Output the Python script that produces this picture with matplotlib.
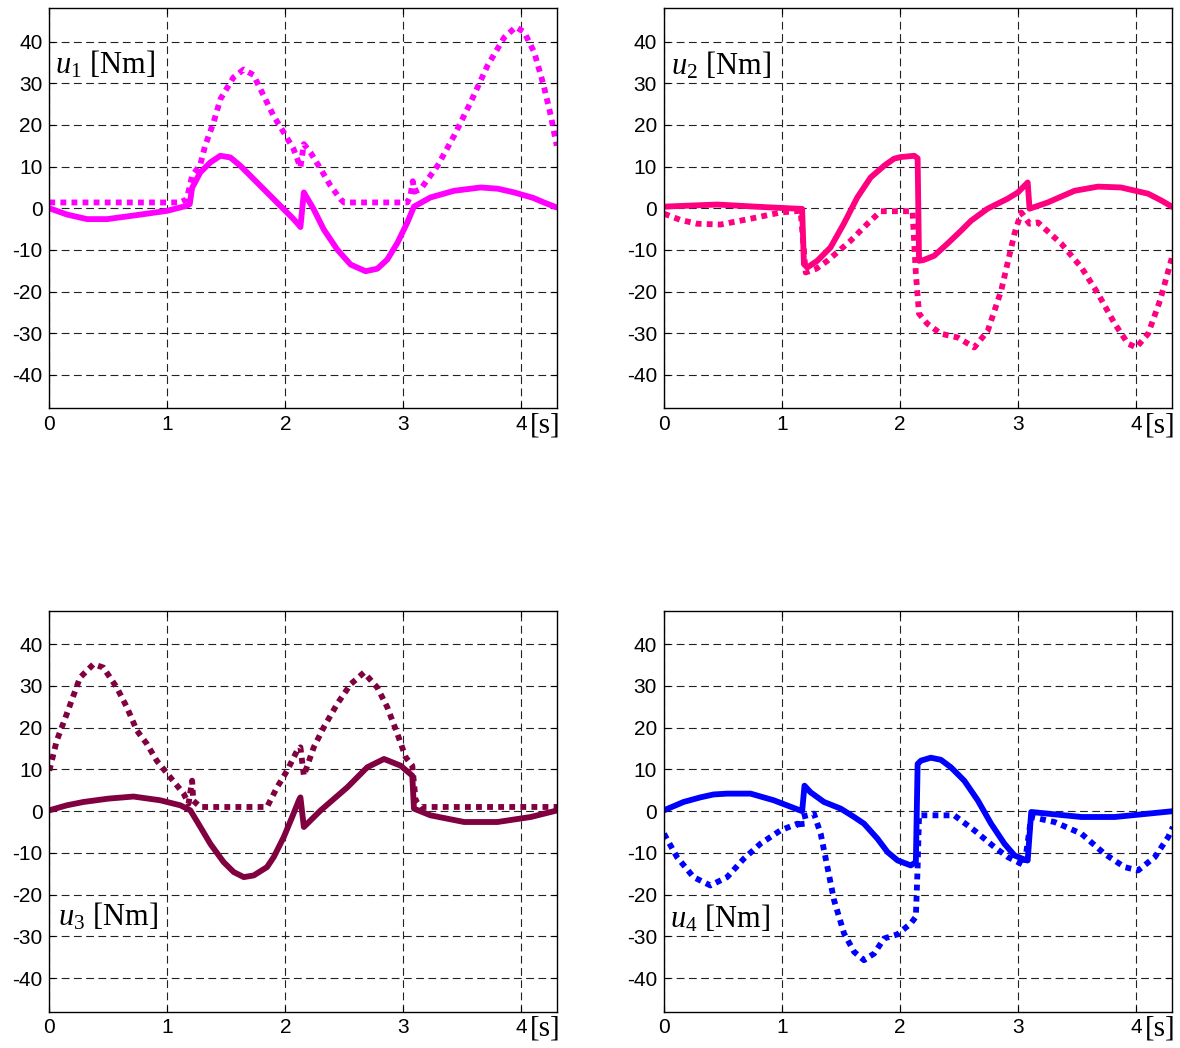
import matplotlib
matplotlib.use("Agg")
import matplotlib.pyplot as plt
import matplotlib.transforms as mtransforms

# u1 (top left)
t1 = [0, 0.15, 0.32, 0.49, 0.75, 1.0, 1.165, 1.19, 1.21, 1.279, 1.364, 1.449, 1.534, 1.619, 1.704, 1.845, 1.986, 2.07,
      2.114, 2.128, 2.157, 2.24, 2.326, 2.44, 2.553, 2.68, 2.78, 2.864, 2.95, 3.034, 3.09, 3.23, 3.43, 3.656, 3.8, 3.94,
      4.1, 4.2, 4.3]
u1 = [0, -1.5, -2.6, -2.6, -1.6, -0.6, 0.6, 1.0, 4.9, 8.6, 11.0, 12.6, 12.2, 10.2, 7.8, 3.8, -0.2, -2.6,
      -4.0, -4.5, 3.8, -0.2, -5.1, -9.9, -13.5, -15.1, -14.5, -12.3, -8.3, -3.4, 0.4, 2.6, 4.2, 5.0, 4.7, 3.8,
      2.5, 1.3, 0.2]
t1d = [0, 1.11, 1.165, 1.21, 1.28, 1.32, 1.392, 1.45, 1.56, 1.647, 1.73, 1.817, 1.90, 1.987, 2.07, 2.128, 2.157, 2.213,
       2.30, 2.383, 2.468, 2.496, 3.034, 3.06, 3.08, 3.095, 3.147, 3.29, 3.43, 3.57, 3.713, 3.855, 3.953, 4.024, 4.11,
       4.19, 4.25, 4.3]
u1d = [1.4, 1.4, 2.2, 7.8, 10.5, 15.0, 20.6, 26.2, 31.4, 33.3, 32.0, 27.0, 22.2, 18.2, 14.2, 9.8, 15.4, 13.4,
       9.4, 5.4, 2.2, 1.4, 1.4, 3.0, 6.5, 4.0, 4.6, 10.2, 17.4, 25.4, 34.2, 41.0, 43.5, 42.3, 37.4,
       29.4, 22.2, 15.0]

# u2 (top right)
t2 = [0, 0.45, 0.87, 1.17, 1.185, 1.214, 1.298, 1.41, 1.523, 1.637, 1.75, 1.864, 1.948, 2.006, 2.12, 2.148, 2.16, 2.2,
      2.288, 2.4, 2.515, 2.6, 2.74, 2.91, 2.997, 3.08, 3.096, 3.25, 3.477, 3.675, 3.87, 4.1, 4.21, 4.31]
u2 = [0.4, 0.9, 0.25, -0.15, -13.4, -14.2, -12.6, -9.4, -3.7, 2.6, 7.4, 10.2, 11.9, 12.3, 12.6, 12.0, -12.6, -12.4,
      -11.4, -8.5, -5.4, -3.0, -0.1, 2.3, 3.8, 6.2, -0.1, 1.4, 4.2, 5.2, 5.0, 3.5, 1.9, 0.25]
t2d = [0, 0.14, 0.28, 0.478, 0.733, 0.987, 1.157, 1.2, 1.29, 1.384, 1.58, 1.723, 1.836, 2.105, 2.133, 2.16, 2.23,
       2.345, 2.487, 2.628, 2.742, 2.855, 2.968, 3.025, 3.095, 3.167, 3.365, 3.535, 3.676, 3.817, 3.93, 4.0, 4.1,
       4.2, 4.3]
u2d = [-1.3, -2.8, -3.7, -3.9, -2.5, -1.0, -0.6, -15.4, -14.5, -12.6, -7.8, -3.7, -0.7, -0.7, -15.7, -25.3, -27.7,
       -30.1, -31.0, -33.4, -29.4, -19.8, -6.1, -1.0, -3.7, -3.4, -8.5, -14.2, -20.5, -27.7, -32.5, -33.4, -30.1,
       -22.2, -12.0]

# u3 (bottom left)
t3 = [0, 0.148, 0.29, 0.5, 0.713, 0.94, 1.11, 1.195, 1.28, 1.364, 1.477, 1.563, 1.648, 1.732, 1.845, 1.902, 1.987,
      2.058, 2.115, 2.128, 2.157, 2.30, 2.525, 2.694, 2.836, 2.977, 3.076, 3.09, 3.23, 3.515, 3.798, 4.08, 4.307]
u3 = [0.2, 1.4, 2.2, 3.0, 3.5, 2.6, 1.4, 0.2, -3.8, -7.8, -12.2, -14.6, -15.8, -15.4, -13.4, -11.0, -6.2,
      -1.4, 2.6, 3.3, -3.8, 0.2, 5.7, 10.5, 12.5, 10.9, 8.5, 0.6, -1.0, -2.6, -2.6, -1.4, 0.2]
t3d = [0, 0.063, 0.148, 0.26, 0.374, 0.458, 0.572, 0.657, 0.742, 0.827, 0.91, 1.025, 1.138, 1.18, 1.21, 1.22, 1.28,
       1.845, 1.93, 2.015, 2.1, 2.128, 2.157, 2.241, 2.326, 2.44, 2.553, 2.666, 2.78, 2.864, 2.95, 3.02, 3.076,
       3.104, 3.147, 4.307]
u3d = [9.7, 16.9, 23.3, 32.0, 35.2, 34.4, 29.6, 24.9, 19.3, 16.1, 12.1, 8.1, 4.2, 1.8, 7.3, 2.5, 1.0,
       1.0, 5.7, 9.7, 14.5, 15.3, 8.5, 15.3, 20.1, 25.7, 30.4, 33.2, 29.6, 24.9, 18.5, 12.9, 10.9,
       2.6, 1.0, 1.0]

# u4 (bottom right)
t4 = [0, 0.166, 0.308, 0.42, 0.535, 0.733, 0.93, 1.17, 1.19, 1.242, 1.355, 1.497, 1.61, 1.694, 1.808, 1.893, 1.978,
      2.09, 2.133, 2.148, 2.176, 2.26, 2.345, 2.43, 2.543, 2.657, 2.77, 2.883, 2.968, 3.053, 3.08, 3.11, 3.25, 3.535,
      3.817, 4.1, 4.312]
u4 = [0.2, 2.2, 3.3, 4.0, 4.2, 4.2, 2.6, 0, 6.1, 4.5, 2.2, 0.6, -1.4, -3.0, -6.6, -9.8, -11.8,
      -13.0, -12.2, 11.3, 12.1, 12.8, 12.3, 10.5, 7.3, 2.6, -3.0, -7.8, -10.6, -11.6, -11.8, -0.2, -0.6, -1.4,
      -1.4, -0.6, 0]
t4d = [0, 0.11, 0.25, 0.393, 0.535, 0.676, 0.817, 0.987, 1.13, 1.17, 1.16, 1.27, 1.327, 1.384, 1.44, 1.525, 1.61,
       1.694, 1.78, 1.864, 1.978, 2.09, 2.133, 2.148, 2.16, 2.458, 2.628, 2.798, 2.912, 3.053, 3.11, 3.307, 3.535,
       3.73, 3.9, 4.015, 4.157, 4.27, 4.31]
u4d = [-5.4, -11.0, -15.8, -17.8, -15.8, -11.4, -7.8, -4.6, -3.0, -4.2, -1.4, -0.6, -5.4, -13.4, -21.3, -29.3, -33.7,
       -35.7, -34.1, -30.5, -29.5, -26.9, -25.3, -13.4, -1.0, -1.0, -4.6, -8.6, -11.0, -13.0, -1.4, -2.6, -5.4,
       -10.2, -13.4, -14.2, -11.0, -6.2, -3.8]

colors = ["#ff00ff", "#ff0080", "#800040", "#0000ff"]
labels = ["1", "2", "3", "4"]
label_pos = [(0.05, 34.4), (0.06, 34.3), (0.076, -25.3), (0.053, -25.7)]
xticks = [0, 1, 2, 3, 4]
yticks = [-40, -30, -20, -10, 0, 10, 20, 30, 40]

plt.rcParams['mathtext.fontset'] = 'custom'
plt.rcParams['mathtext.rm'] = 'Liberation Serif'
plt.rcParams['mathtext.it'] = 'Liberation Serif:italic'

fig = plt.figure(figsize=(11.8, 10.48), dpi=100)
rects = [[0.0418, 0.6104, 0.430, 0.3817], [0.5627, 0.6104, 0.4303, 0.3817],
         [0.0418, 0.0348, 0.430, 0.3824], [0.5627, 0.0348, 0.4303, 0.3824]]
data = [(t1, u1, t1d, u1d), (t2, u2, t2d, u2d), (t3, u3, t3d, u3d), (t4, u4, t4d, u4d)]

for i in range(4):
    ax = fig.add_axes(rects[i])
    t, u, td, ud = data[i]
    ax.plot(td, ud, color=colors[i], lw=4.2, linestyle=(0, (1.0, 0.9)), dash_capstyle='butt')
    ax.plot(t, u, color=colors[i], lw=4.2, solid_joinstyle='round', solid_capstyle='round')
    ax.set_xlim(0, 4.3)
    ax.set_ylim(-48, 48)
    ax.set_xticks(xticks)
    ax.set_yticks(yticks)
    ax.set_xticklabels([str(v) for v in xticks], fontfamily='Liberation Sans', fontsize=15)
    ax.set_yticklabels([str(v) for v in yticks], fontfamily='Liberation Sans', fontsize=15)
    ax.tick_params(direction='in', top=True, right=True, length=4, width=0.8, pad=5)
    ax.grid(True, color='#222222', lw=0.8, linestyle=(0, (7, 4)))
    for s in ax.spines.values():
        s.set_linewidth(1.0)
    ax.text(label_pos[i][0], label_pos[i][1], r'$u_{%s}$ [Nm]' % labels[i], fontfamily='Liberation Serif',
            fontsize=22, va='center', ha='left')
    trans = mtransforms.blended_transform_factory(ax.transData, ax.transAxes)
    ax.text(4.07, -0.01, '[s]', transform=trans, fontfamily='Liberation Serif', fontsize=21,
            ha='left', va='top')

fig.savefig("out.png", dpi=100)
